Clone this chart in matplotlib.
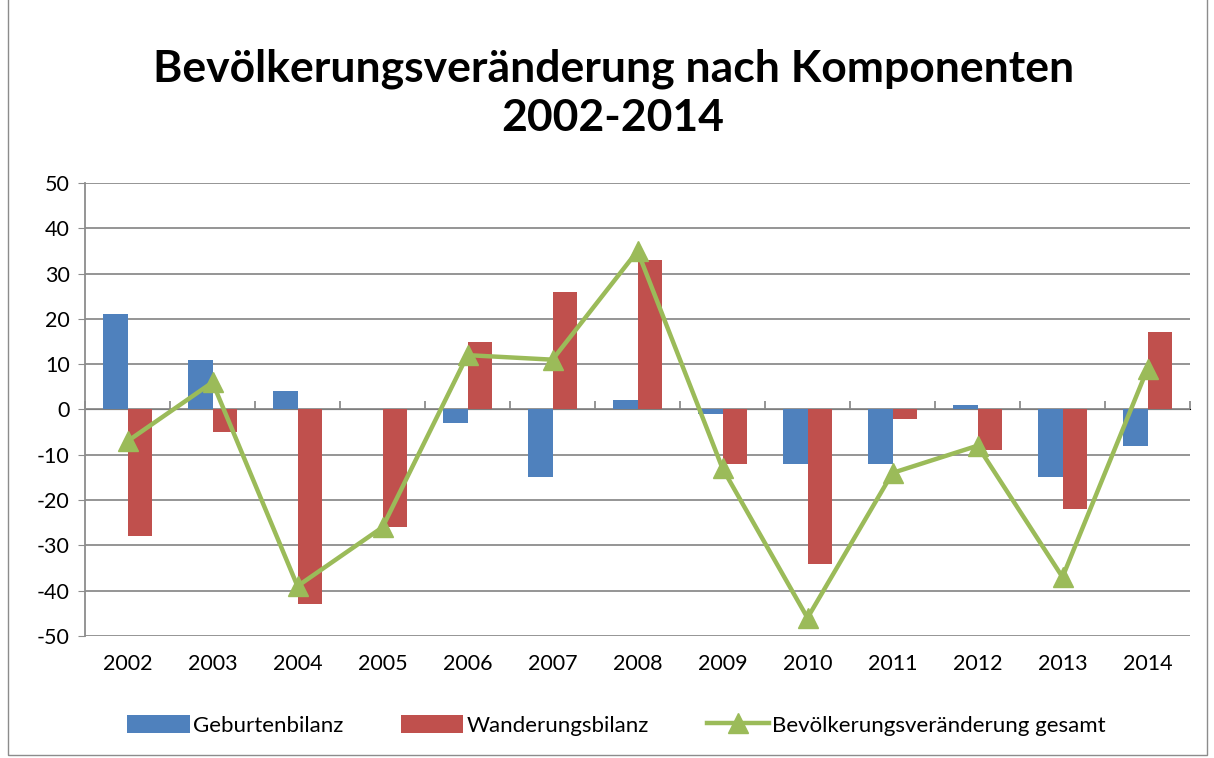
import matplotlib
matplotlib.use("Agg")
from matplotlib import pyplot as plt
from matplotlib.patches import Rectangle
import numpy as np

years = ["2002", "2003", "2004", "2005", "2006", "2007", "2008",
         "2009", "2010", "2011", "2012", "2013", "2014"]
geburten = [21, 11, 4, 0, -3, -15, 2, -1, -12, -12, 1, -15, -8]
wanderung = [-28, -5, -43, -26, 15, 26, 33, -12, -34, -2, -9, -22, 17]
gesamt = [-7, 6, -39, -26, 12, 11, 35, -13, -46, -14, -8, -37, 9]

plt.rcParams['font.family'] = ['Lato', 'DejaVu Sans']
plt.rcParams['axes.unicode_minus'] = False

fig = plt.figure(figsize=(12.14, 7.58), dpi=100)
ax = fig.add_axes([85 / 1214, 1 - 636 / 758, (1190 - 85) / 1214, (636 - 183) / 758])

x = np.arange(len(years))
w = 0.285
ax.bar(x - w / 2, geburten, w, color="#4F81BD", label="Geburtenbilanz", zorder=2)
ax.bar(x + w / 2, wanderung, w, color="#C0504D", label="Wanderungsbilanz", zorder=2)
ax.plot(x, gesamt, color="#9BBB59", lw=3.2, marker="^", markersize=15,
        label="Bevölkerungsveränderung gesamt", zorder=3)

ax.set_xlim(-0.5, len(years) - 0.5)
ax.set_ylim(-50, 50)
ax.set_yticks(np.arange(-50, 51, 10))
ax.yaxis.grid(True, color="#8c8c8c", lw=1.3)
ax.set_axisbelow(True)
for s in ["top", "right", "bottom"]:
    ax.spines[s].set_visible(False)
ax.spines["left"].set_color("#8c8c8c")
ax.spines["left"].set_linewidth(1.3)
ax.tick_params(axis="y", length=5, color="#8c8c8c", labelsize=15.5, pad=6)
ax.set_xticks(x)
ax.set_xticklabels(years)
ax.tick_params(axis="x", length=0, labelsize=15.5, pad=13)

# zero line with category-boundary ticks
sec = ax.secondary_xaxis(0.5)
sec.set_xticks(np.arange(-0.5, len(years), 1))
sec.set_xticklabels([])
sec.spines["bottom"].set_color("#8c8c8c")
sec.spines["bottom"].set_linewidth(1.3)
sec.tick_params(length=6, width=1.3, color="#8c8c8c", direction="out")

fig.text(0.505, 0.877, "Bevölkerungsveränderung nach Komponenten\n2002-2014",
         ha="center", va="center", fontsize=32, fontweight="bold", linespacing=1.3)

handles, labels = ax.get_legend_handles_labels()
order = [1, 2, 0]
fig.legend([handles[i] for i in order], [labels[i] for i in order],
           loc="center", bbox_to_anchor=(0.508, 0.043), ncol=3, frameon=False,
           fontsize=16, handlelength=2.8, handleheight=0.9,
           columnspacing=2.6, handletextpad=0.15)

fig.patches.append(Rectangle((8 / 1214, 3 / 758), 1199 / 1214, 1.2,
                             transform=fig.transFigure, fill=False,
                             edgecolor="#8c8c8c", lw=1))

fig.savefig("out.png", dpi=100)
